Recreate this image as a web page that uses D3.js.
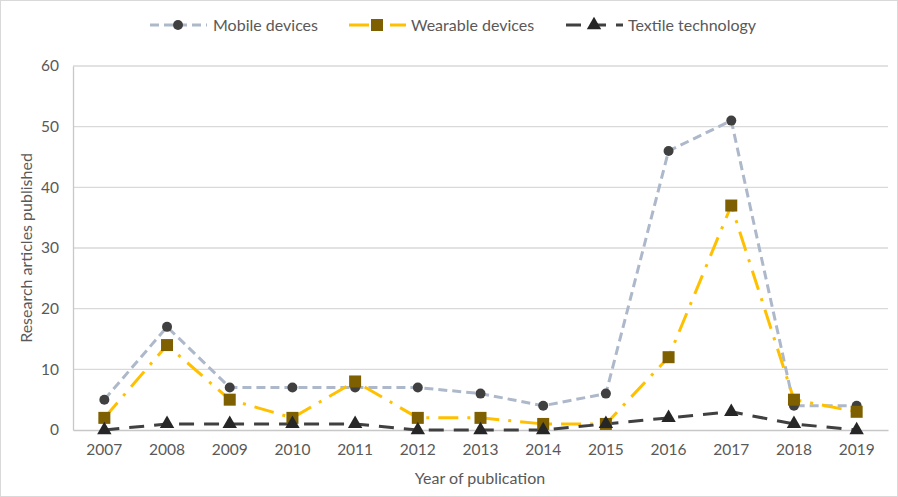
<!DOCTYPE html>
<html><head><meta charset="utf-8">
<script src="https://cdn.jsdelivr.net/npm/d3@7"></script>
<style>body{margin:0;background:#fff}svg{display:block}</style>
</head><body>
<script>
const years = ["2007","2008","2009","2010","2011","2012","2013","2014","2015","2016","2017","2018","2019"];
const mobile = [5,17,7,7,7,7,6,4,6,46,51,4,4];
const wearable = [2,14,5,2,8,2,2,1,1,12,37,5,3];
const textile = [0,1,1,1,1,0,0,0,1,2,3,1,0];
const seriesNames = ["Mobile devices","Wearable devices","Textile technology"];
const yTicks = [0,10,20,30,40,50,60];

const W=898,H=497;
const m={l:73,r:888,t:66,b:430};
const svg=d3.select("body").append("svg").attr("width",W).attr("height",H);
const font="Lato, 'Open Sans', sans-serif";
svg.append("rect").attr("x",0.5).attr("y",0.5).attr("width",W-1).attr("height",H-1).attr("fill","#fff").attr("stroke","#d9d9d9");

const x=d3.scaleBand().domain(years).range([m.l,m.r]);
const y=d3.scaleLinear().domain([0,60]).range([m.b,m.t]);
const cx=d=>x(d)+x.bandwidth()/2;

svg.append("g").selectAll("line").data(yTicks.filter(t=>t>0)).join("line")
  .attr("x1",m.l).attr("x2",m.r).attr("y1",d=>y(d)).attr("y2",d=>y(d))
  .attr("stroke","#d9d9d9").attr("stroke-width",1.3);
const ya=svg.append("g").attr("transform",`translate(${m.l},0)`).call(d3.axisLeft(y).tickValues(yTicks).tickSize(0).tickPadding(14));
ya.select(".domain").attr("stroke","#c8c8c8").attr("stroke-width",1.3);
ya.selectAll("text").attr("font-family",font).attr("font-size",15.5).attr("fill","#595959");
const xa=svg.append("g").attr("transform",`translate(0,${m.b})`).call(d3.axisBottom(x).tickSize(0).tickPadding(14));
xa.select(".domain").attr("stroke","#c8c8c8").attr("stroke-width",1.3);
xa.selectAll("text").attr("font-family",font).attr("font-size",15.5).attr("fill","#595959");

svg.append("text").attr("x",480).attr("y",484).attr("text-anchor","middle")
  .attr("font-family",font).attr("font-size",16).attr("fill","#595959").text("Year of publication");
svg.append("text").attr("transform","translate(32,248) rotate(-90)").attr("text-anchor","middle")
  .attr("font-family",font).attr("font-size",16).attr("fill","#595959").text("Research articles published");

const cfg=[
 {data:mobile,line:"#adb9ca",dash:"9,5",w:3,mk:"circle",mc:"#404040",size:5},
 {data:wearable,line:"#ffc000",dash:"20,9,3,9",w:3,mk:"square",mc:"#7f6000",size:12},
 {data:textile,line:"#404040",dash:"15,10",w:3,mk:"triangle",mc:"#262626",size:13}
];
const lineGen=d3.line().x((d,i)=>cx(years[i])).y(d=>y(d));
function marker(g,c,px,py){
  if(c.mk==="circle") g.append("circle").attr("cx",px).attr("cy",py).attr("r",c.size).attr("fill",c.mc);
  else if(c.mk==="square") g.append("rect").attr("x",px-c.size/2).attr("y",py-c.size/2).attr("width",c.size).attr("height",c.size).attr("fill",c.mc);
  else g.append("path").attr("d",d3.symbol(d3.symbolTriangle,90)()).attr("transform",`translate(${px},${py})`).attr("fill",c.mc);
}
cfg.forEach(c=>{
  svg.append("path").datum(c.data).attr("d",lineGen).attr("fill","none")
    .attr("stroke",c.line).attr("stroke-width",c.w).attr("stroke-dasharray",c.dash).attr("stroke-linejoin","round");
});
cfg.forEach(c=>{
  const g=svg.append("g");
  c.data.forEach((d,i)=>marker(g,c,cx(years[i]),y(d)));
});
const lx=[150,349,566];
const tx=[213,411,628];
cfg.forEach((c,i)=>{
  const g=svg.append("g");
  g.append("line").attr("x1",lx[i]).attr("x2",lx[i]+57).attr("y1",25).attr("y2",25)
    .attr("stroke",c.line).attr("stroke-width",3).attr("stroke-dasharray",c.dash);
  marker(g,c,lx[i]+28,25);
  g.append("text").attr("x",tx[i]).attr("y",31).attr("font-family",font).attr("font-size",16)
    .attr("fill","#595959").text(seriesNames[i]);
});
</script>
</body></html>
